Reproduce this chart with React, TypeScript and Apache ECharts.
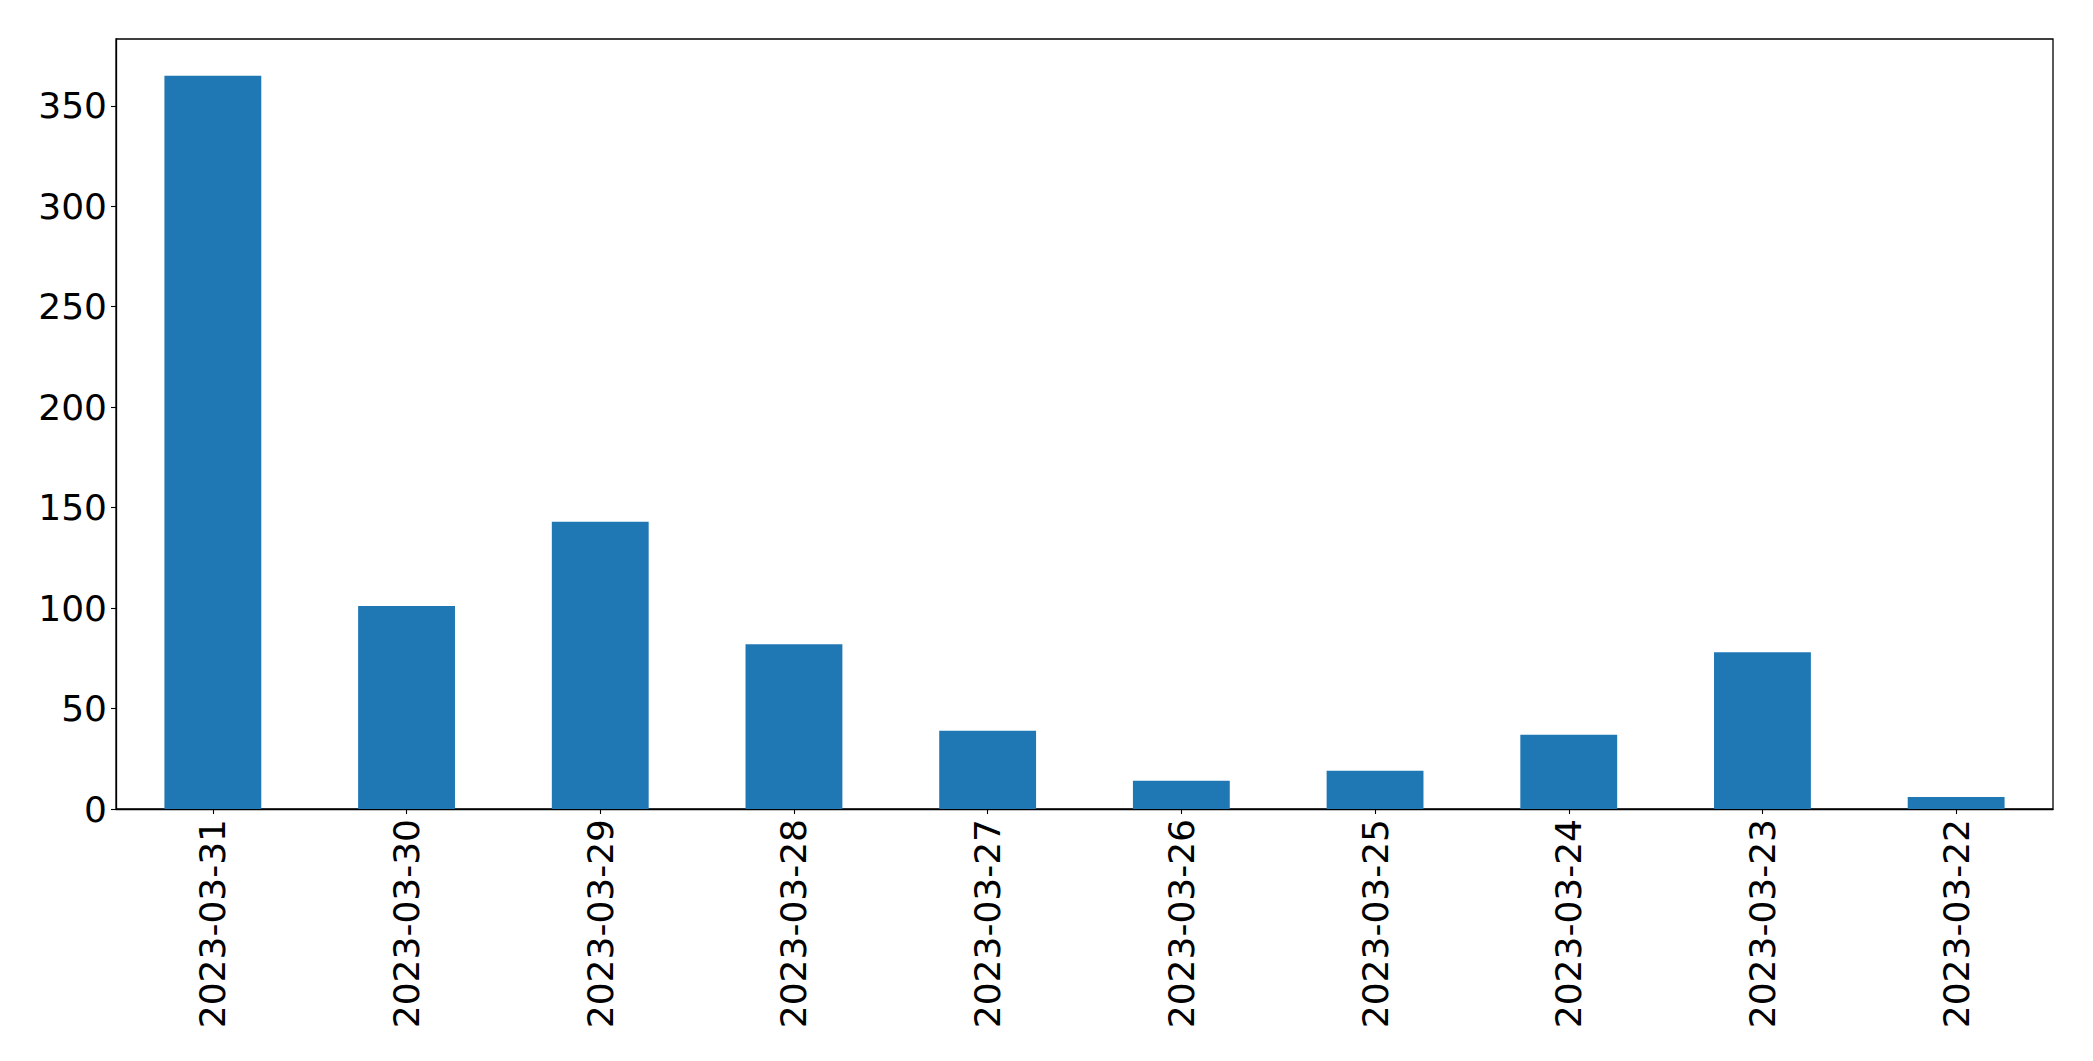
import React, { useEffect, useRef } from "react";
import * as echarts from "echarts";

const categories = [
  "2023-03-31",
  "2023-03-30",
  "2023-03-29",
  "2023-03-28",
  "2023-03-27",
  "2023-03-26",
  "2023-03-25",
  "2023-03-24",
  "2023-03-23",
  "2023-03-22",
];
const values = [365, 101, 143, 82, 39, 14, 19, 37, 78, 6];
const yTicks = [0, 50, 100, 150, 200, 250, 300, 350];
const yMax = 383.25;

export default function App() {
  const ref = useRef<HTMLDivElement>(null);
  useEffect(() => {
    if (!ref.current) return;
    const chart = echarts.init(ref.current, null, { renderer: "svg" });
    const font = "DejaVu Sans";
    chart.setOption({
      animation: false,
      backgroundColor: "#ffffff",
      grid: {
        left: 116,
        right: 40,
        top: 39,
        bottom: 252,
        show: true,
        borderColor: "#000000",
        borderWidth: 1.3,
        backgroundColor: "transparent",
      },
      xAxis: {
        type: "category",
        data: categories,
        boundaryGap: true,
        axisLine: { show: true, lineStyle: { color: "#000000", width: 1.3 } },
        axisTick: {
          show: true,
          alignWithLabel: true,
          length: 5,
          lineStyle: { color: "#000000", width: 1.1 },
        },
        axisLabel: {
          rotate: 90,
          margin: 10,
          fontSize: 36,
          fontFamily: font,
          color: "#000000",
          interval: 0,
        },
        splitLine: { show: false },
      },
      yAxis: {
        type: "value",
        min: 0,
        max: yMax,
        interval: 50,
        axisLine: { show: true, lineStyle: { color: "#000000", width: 1.3 } },
        axisTick: {
          show: true,
          length: 5,
          lineStyle: { color: "#000000", width: 1.1 },
        },
        axisLabel: {
          margin: 9,
          fontSize: 36,
          fontFamily: font,
          color: "#000000",
          showMaxLabel: false,
          formatter: (v: number) => (yTicks.includes(v) ? String(v) : ""),
        },
        splitLine: { show: false },
      },
      series: [
        {
          type: "bar",
          data: values,
          barWidth: "50%",
          itemStyle: { color: "#1f77b4" },
        },
      ],
    });
    return () => chart.dispose();
  }, []);
  return (
    <div
      ref={ref}
      style={{ position: "absolute", left: 0, top: 0, width: 2093, height: 1061 }}
    />
  );
}
